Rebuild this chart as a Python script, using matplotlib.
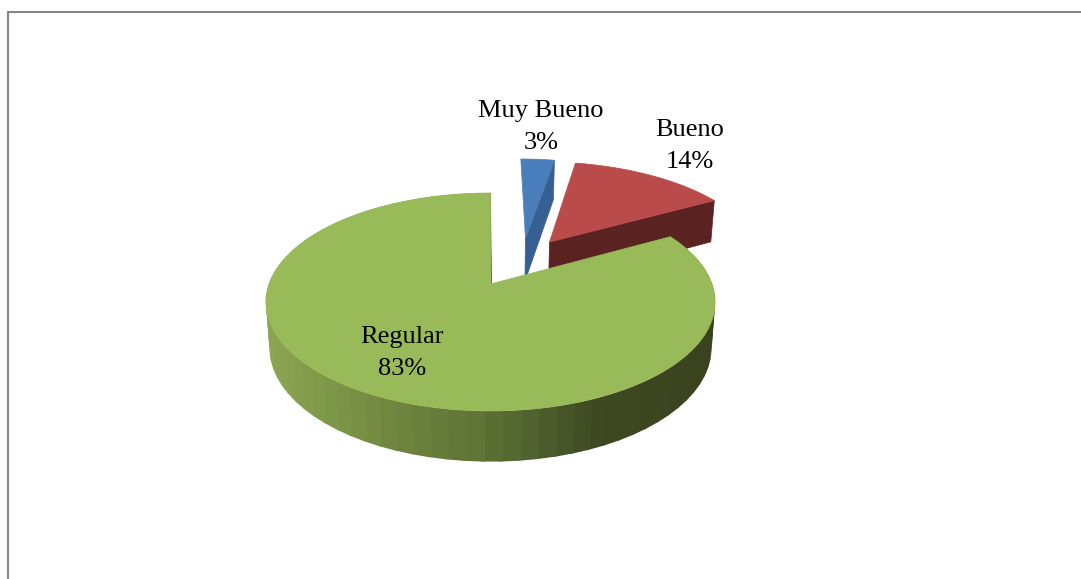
import matplotlib
matplotlib.use("Agg")
import matplotlib.pyplot as plt
from matplotlib.colors import to_rgb
from matplotlib.patches import Polygon
import numpy as np

# porcentajes de cada categoria, empezando a las 12 y en sentido horario
categorias = ["Muy Bueno", "Bueno", "Regular"]
valores = [3, 14, 83]

# estilo de cada porcion
color_cara = ["#4a7ebb", "#b94c4a", "#99ba58"]
color_corte = ["#376092", "#5a2221", "#5f7636"]
separacion = [(0.17, -0.464), (0.285, -0.423), (0.0, 0.0)]
pos_texto = [(541, 127), (690, 146), (402, 353)]

# degradado del borde curvo, segun la x en pantalla
borde_x = [270, 330, 400, 480, 540, 590, 714]
borde_color = ["#8ca553", "#7d9748", "#6f843e", "#5e7335", "#4e5f2e", "#3f4a21", "#39421d"]

# proyeccion en perspectiva del disco
K = 0.165
X0 = 490.5
R_ARRIBA, Y_ARRIBA, H_ARRIBA = 221.5, 284, 106
R_ABAJO, Y_ABAJO, H_ABAJO = 218, 329, 110.7


def proyectar(u, v, abajo=False):
    p = 1 / (1 - K * v)
    if abajo:
        return X0 + R_ABAJO * u * p, Y_ABAJO + H_ABAJO * v * p
    return X0 + R_ARRIBA * u * p, Y_ARRIBA + H_ARRIBA * v * p


def punto(alfa, sep, abajo=False, radio=1.0):
    a = np.radians(alfa)
    return proyectar(sep[0] + radio * np.sin(a), sep[1] - radio * np.cos(a), abajo)


def color_borde(x):
    rgb = np.array([to_rgb(c) for c in borde_color])
    return [np.interp(x, borde_x, rgb[:, i]) for i in range(3)]


fig = plt.figure(figsize=(10.81, 5.79), dpi=100)
ax = fig.add_axes([0, 0, 1, 1])
ax.set_xlim(0, 1081)
ax.set_ylim(579, 0)
ax.axis("off")

# marco del grafico, sin lados derecho e inferior
ax.plot([8, 8, 1081], [579, 12, 12], color="#868686", lw=1.5, solid_joinstyle="miter")

# angulos de inicio y fin de cada porcion
fin = np.cumsum(valores) * 3.6
inicio = fin - np.array(valores) * 3.6

for i in range(len(valores)):
    sep = separacion[i]
    # cara de corte visible (la del final de la porcion)
    corte = [punto(fin[i], sep, radio=0), punto(fin[i], sep), punto(fin[i], sep, True), punto(fin[i], sep, True, 0)]
    ax.add_patch(Polygon(corte, fc=color_corte[i], ec=color_corte[i], lw=0.5))

    # borde curvo en franjas, cada una tapa la union con la anterior
    if valores[i] > 50:
        for a in np.arange(inicio[i], fin[i], 4.0):
            b = min(a + 5.0, fin[i])
            tramo = np.linspace(a, b, 6)
            franja = [punto(t, sep) for t in tramo] + [punto(t, sep, True) for t in tramo[::-1]]
            c = color_borde(punto(a + 2.0, sep)[0])
            ax.add_patch(Polygon(franja, fc=c, ec="none"))

    # cara superior
    angulos = np.linspace(inicio[i], fin[i], 200)
    cara = [punto(0, sep, radio=0)] + [punto(a, sep) for a in angulos]
    ax.add_patch(Polygon(cara, fc=color_cara[i], ec=color_cara[i], lw=0.5))

for nombre, valor, (x, y) in zip(categorias, valores, pos_texto):
    ax.text(x, y, f"{nombre}\n{valor}%", ha="center", va="center", family="Liberation Serif",
            fontsize=19, color="black", linespacing=1.55)

fig.savefig("out.png", dpi=100)
